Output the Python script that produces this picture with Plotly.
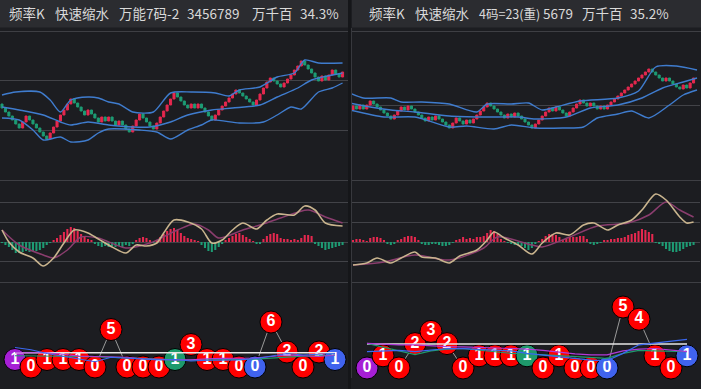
import plotly.graph_objects as go

W, H = 701, 389
BG = "#1c1d21"
BAR_BG = "#2b2c30"
RED = "#e6284f"
GREEN = "#1d9c74"
BAND = "#3f7cce"
DIF_C = "#c9b48e"
DEA_C = "#8a3d6e"
GRID = "#424348"

# ---------------- data ----------------
left_title = ["频率K", "快速缩水", "万能7码-2", "3456789", "万千百", "34.3%"]
right_title = ["频率K", "快速缩水", "4码=23(重)", "5679", "万千百", "35.2%"]

left_open0 = 76
left_close = [72,68,64,60,56,52,58,64,60,56,52,48,44,41,47,53,59,65,70,76,81,77,73,69,65,70,66,62,58,63,
              59,63,59,55,59,55,51,48,54,60,66,62,58,54,51,57,63,69,75,81,87,83,79,75,72,76,72,76,72,68,
              64,60,65,70,74,78,82,86,90,87,84,81,78,75,80,86,92,98,102,99,96,93,97,101,105,110,114,119,115,111,
              107,103,99,104,100,105,110,106,103,108]
right_open0 = 70
right_close = [74,71,75,71,75,79,76,73,70,67,64,61,65,69,73,70,74,71,68,65,62,59,63,60,64,61,58,55,52,57,
               62,59,56,60,57,61,65,69,73,77,74,71,68,65,62,66,63,67,64,61,58,55,52,56,60,64,68,72,69,73,
               70,67,64,68,72,76,80,77,74,77,74,71,74,71,75,78,81,84,87,90,93,96,99,102,105,108,111,108,105,102,
               99,102,99,96,93,91,95,92,97,102]

# Bollinger bands (candle index, value)
left_up_x = [0,4,11,14,17,20,25,28,31,34,38,44,49,55,62,66,69,75,80,85,88,92,99]
left_up = [85,88,88,80,68,80,83,82,78,76,68,68,87,88,87,84,90,93,103,107,120,117,117]
left_mid_x = [0,5,12,17,20,25,31,38,43,49,54,61,67,75,80,86,90,99]
left_mid = [73,70,65,58,55,58,55,53,53,58,65,70,72,75,83,92,100,107]
left_low_x = [0,5,9,12,17,20,25,28,31,40,45,49,54,58,61,69,76,80,84,87,92,96,99]
left_low = [62,60,50,40,43,38,40,47,51,50,48,41,50,55,60,57,58,65,73,71,88,92,97]

right_up_x = [-1,3,11,14,20,28,36,39,46,51,55,59,66,77,83,88,94,100]
right_up = [87,82,82,78,78,76,68,76,76,77,70,73,79,82,89,113,114,110]
right_mid_x = [-1,5,11,18,28,38,48,53,62,69,77,84,90,96,100]
right_mid = [77,73,70,68,64,63,63,61,63,72,75,82,92,98,102]
right_low_x = [-1,9,18,28,33,41,46,53,61,67,71,77,81,86,92,96,100]
right_low = [70,63,63,53,54,51,55,52,52,53,62,66,69,62,75,85,90]

# price level lines
left_levels = [50, 100]
right_levels = [75]

# MACD histogram
left_hist = [-1,-3,-5,-8,-11, -11,-10,-9,-10,-9,-9,-8,-6, -3,-1, 2,4,7,10,13,15,14,11,8,5, 3,2,
             -2,-4,-5,-4,-5,-4,-5,-4,-5,-3,-4,-2, 2,4,5,4,2,-1, 2,5,8,11,13,14,12,9,6, 4,3,2,1,
             -3,-6,-9,-10,-8,-5,-2, 2,4,6,8,9,7,5,3,1, -2,-2, 3,6,8,9,8, 4,3,3,2,3,2, 4,7,7,6,
             -2,-4,-6,-8,-7,-6,-5,-4,-3]
right_hist = [2,3,3,2,1,4,5,5,4,2, -2,-3,-2, 2,3,5,6,6,5,2, -2,-3,-3,-2,-2,-3,-4,-4,-3,-1,
              2,3,5,3,4,3,5,5,6, 9,12,11,8, 3,1, -1,-2,-3,-3,-4,-6,-8,-6,-2, 1, 3,6,8,8,7,5,
              2,4,5,5,5,6,6,3, -2,-3,-2,-1, 2,2,3,3,4,4,5,7,8,9,11,13,12,10,8,
              -1,-2,-4,-7,-9,-10,-10,-9,-7,-5,-4,-3]

left_dif_x = [0,2,5,9,12,15,18,21,25,28,32,36,39,42,45,47,50,54,58,61,64,67,70,74,77,80,85,88,91,94,99]
left_dif = [12,0,-10,-16,-24,-16,-1,12,9,3,-5,-11,-3,-4,-1,9,22,20,13,-1,2,12,19,13,22,28,27,36,32,19,16]
left_dea_x = [0,5,12,15,19,23,28,36,43,51,56,60,63,70,75,81,89,94,99]
left_dea = [12,-3,-13,-16,-8,5,4,-6,-1,12,18,12,4,12,17,24,32,25,19]

right_dif_x = [0,4,7,11,14,18,20,24,28,31,36,39,41,44,48,52,55,59,63,67,70,74,77,81,84,88,91,95,97,99]
right_dif = [-23,-21,-16,-21,-16,-10,-15,-16,-21,-14,-8,2,10,4,-3,-12,-1,9,7,17,19,12,17,22,32,48,42,25,19,20]
right_dea_x = [0,9,18,28,38,42,52,55,63,71,80,86,91,95,99]
right_dea = [-23,-20,-13,-18,-6,5,-3,-5,5,16,19,27,40,32,25]

# ball panel
left_balls = [1,0,1,1,1,0,5,0,0,0,1,3,1,1,0,0,6,2,0,2,1]
right_balls = [0,1,0,2,3,2,0,1,1,1,1,0,1,0,0,0,5,4,1,0,1]
left_ref = 1.9
right_ref = 1.97
left_blue = [2.6,2.3,1.8,1.4,1.0,0.7,1.3,1.2,1.0,0.95,1.0,0.8,0.9,0.9,0.95,1.1,1.5,1.8,1.6,1.7,1.8]
left_purple = [1.9,1.9,1.9,1.7,1.45,1.4,1.38,1.3,1.1,1.0,0.95,0.95,1.1,1.15,1.16,1.2,1.4,1.6,1.5,1.4,1.6]
left_green = [1.5,1.5,1.5,1.45,1.4,1.38,1.3,1.2,1.05,1.0,0.95,0.93,0.93,0.95,1.0,1.05,1.2,1.38,1.45,1.5,1.6]
right_blue = [1.34,1.4,1.45,1.35,1.45,1.6,1.58,1.53,1.5,1.4,1.2,1.05,0.93,0.75,0.65,0.6,1.2,1.9,2.05,2.2,2.35]
right_purple = [2.02,1.95,1.9,1.89,1.8,1.75,1.73,1.7,1.65,1.61,1.55,1.45,1.3,1.15,1.07,1.07,1.4,1.55,1.6,1.48,1.34]
right_green = [2.02,1.7,1.4,1.1,1.4,1.55,1.6,1.45,1.3,1.2,1.15,1.07,1.0,0.93,0.85,0.79,1.2,1.45,1.4,1.34,1.34]

BALL_SPECIAL = {0: "#a61fd6", 10: "#1e9a6c", 15: "#4063ee", 20: "#4063ee"}

# ---------------- figure ----------------
def px(x):
    return x / W


def py(y):
    return 1 - y / H


fig = go.Figure()
layout = {}

panels = [
    dict(title=left_title, tx=[7, 53, 117, 185, 250, 298], tsize=[13.5] * 6, open0=left_open0, close=left_close,
         bands=[(left_up_x, left_up), (left_mid_x, left_mid), (left_low_x, left_low)], levels=left_levels,
         hist=left_hist, dif=(left_dif_x, left_dif), dea=(left_dea_x, left_dea),
         balls=left_balls, ref=left_ref, lines=[left_green, left_purple, left_blue],
         xdom=[0, 348 / W], xr=[-2 / 3.44, -2 / 3.44 + 348 / 3.44],
         ball_yr=[-11 / 7.5, 85 / 7.5]),
    dict(title=right_title, tx=[367, 413, 477, 541, 580, 628], tsize=[13.5, 13.5, 12.5, 13.5, 13.5, 13.5],
         open0=right_open0, close=right_close,
         bands=[(right_up_x, right_up), (right_mid_x, right_mid), (right_low_x, right_low)], levels=right_levels,
         hist=right_hist, dif=(right_dif_x, right_dif), dea=(right_dea_x, right_dea),
         balls=right_balls, ref=right_ref, lines=[right_green, right_purple, right_blue],
         xdom=[352 / W, 700 / W], xr=[-1 / 3.44, -1 / 3.44 + 348 / 3.44],
         ball_yr=[-10 / 12.2, 86 / 12.2]),
]

shapes = []
annotations = []

for p, P in enumerate(panels):
    a_price, a_macd, a_ball = 3 * p + 1, 3 * p + 2, 3 * p + 3

    def names(i):
        return ("x" if i == 1 else f"x{i}"), ("y" if i == 1 else f"y{i}")

    def axkeys(i):
        return ("xaxis" if i == 1 else f"xaxis{i}"), ("yaxis" if i == 1 else f"yaxis{i}")

    # ---- price ----
    xa, ya = names(a_price)
    closes = P["close"]
    opens = [P["open0"]] + closes[:-1]
    idx = list(range(len(closes)))
    ccols = [RED if c > o else GREEN for c, o in zip(closes, opens)]
    fig.add_trace(go.Bar(x=idx, base=opens, y=[c - o for c, o in zip(closes, opens)],
                         marker=dict(color=ccols, line=dict(color=ccols, width=1)),
                         width=0.6, xaxis=xa, yaxis=ya, hoverinfo="skip"))
    for bx, bv in P["bands"]:
        fig.add_trace(go.Scatter(x=bx, y=bv, mode="lines", line=dict(color=BAND, width=1.4, shape="spline", smoothing=0.7),
                                 xaxis=xa, yaxis=ya, hoverinfo="skip"))
    kx, ky = axkeys(a_price)
    layout[kx] = dict(domain=P["xdom"], range=P["xr"], visible=False, anchor=ya, fixedrange=True)
    layout[ky] = dict(domain=[py(180), py(31)], range=[0, 149], anchor=xa, showgrid=True, gridcolor=GRID,
                      gridwidth=1, tickvals=P["levels"], showticklabels=False, zeroline=False, showline=False,
                      ticks="", fixedrange=True)

    # ---- MACD ----
    xa, ya = names(a_macd)
    hist = P["hist"]
    fig.add_trace(go.Bar(x=list(range(len(hist))), y=hist, width=0.6,
                         marker=dict(color=[RED if v > 0 else GREEN for v in hist], line_width=0),
                         xaxis=xa, yaxis=ya, hoverinfo="skip"))
    fig.add_trace(go.Scatter(x=P["dea"][0], y=P["dea"][1], mode="lines",
                             line=dict(color=DEA_C, width=1.5, shape="spline", smoothing=0.8),
                             xaxis=xa, yaxis=ya, hoverinfo="skip"))
    fig.add_trace(go.Scatter(x=P["dif"][0], y=P["dif"][1], mode="lines",
                             line=dict(color=DIF_C, width=1.6, shape="spline", smoothing=0.8),
                             xaxis=xa, yaxis=ya, hoverinfo="skip"))
    kx, ky = axkeys(a_macd)
    layout[kx] = dict(domain=P["xdom"], range=P["xr"], visible=False, anchor=ya, fixedrange=True)
    layout[ky] = dict(domain=[py(282), py(180)], range=[-40, 62], anchor=xa, showgrid=True, gridcolor=GRID,
                      gridwidth=1, tickvals=[-19, 0, 20, 40], showticklabels=False, zeroline=False,
                      showline=False, ticks="", fixedrange=True)

    # ---- balls ----
    xa, ya = names(a_ball)
    balls = P["balls"]
    bidx = list(range(len(balls)))
    fig.add_trace(go.Scatter(x=bidx, y=balls, mode="lines", line=dict(color="#9a9a9a", width=1),
                             xaxis=xa, yaxis=ya, hoverinfo="skip", cliponaxis=False))
    fig.add_trace(go.Scatter(x=bidx, y=balls, mode="markers+text", text=[str(v) for v in balls],
                             textposition="middle center",
                             textfont=dict(color="white", size=16, family="Liberation Sans", weight="bold"),
                             marker=dict(size=22, color=[BALL_SPECIAL.get(i, "#ff0000") for i in bidx],
                                         line=dict(color="#000000", width=1)),
                             xaxis=xa, yaxis=ya, hoverinfo="skip", cliponaxis=False))
    fig.add_trace(go.Scatter(x=[bidx[0], bidx[-1]], y=[P["ref"], P["ref"]], mode="lines",
                             line=dict(color="#e6e6e6", width=1.6), xaxis=xa, yaxis=ya, hoverinfo="skip",
                             cliponaxis=False))
    for col, vals in zip(["#1e9a6c", "#b03ad8", "#3a68f0"], P["lines"]):
        fig.add_trace(go.Scatter(x=bidx, y=vals, mode="lines", line=dict(color=col, width=1.2),
                                 xaxis=xa, yaxis=ya, hoverinfo="skip", cliponaxis=False))
    kx, ky = axkeys(a_ball)
    layout[kx] = dict(domain=P["xdom"], range=[-15 / 16, -15 / 16 + 348 / 16], visible=False, anchor=ya,
                      fixedrange=True)
    layout[ky] = dict(domain=[py(378), py(282)], range=P["ball_yr"], anchor=xa, visible=False, fixedrange=True)

    # ---- decorations ----
    x0 = P["xdom"][0] * W
    x1 = P["xdom"][1] * W if p == 0 else W
    shapes.append(dict(type="rect", xref="paper", yref="paper", x0=px(x0), x1=px(x1), y0=py(27.5), y1=py(0),
                       fillcolor=BAR_BG, line_width=0, layer="below"))
    for yy in (31.5, 180.5, 282.5):
        shapes.append(dict(type="line", xref="paper", yref="paper", x0=px(x0), x1=px(x1), y0=py(yy), y1=py(yy),
                           line=dict(color="#3e3f44", width=1), layer="below"))
    for t, tx, ts in zip(P["title"], P["tx"], P["tsize"]):
        annotations.append(dict(text=t, x=px(tx), y=py(13.5), xref="paper", yref="paper", xanchor="left",
                                yanchor="middle", showarrow=False,
                                font=dict(family="Noto Sans CJK SC", size=ts, color="#d9d9d9")))

# separator between the two panels
shapes.append(dict(type="rect", xref="paper", yref="paper", x0=px(348), x1=px(351), y0=0, y1=1,
                   fillcolor="#151619", line_width=0, layer="below"))
shapes.append(dict(type="line", xref="paper", yref="paper", x0=px(351.5), x1=px(351.5), y0=py(378), y1=py(28),
                   line=dict(color="#37383d", width=1), layer="below"))

fig.update_layout(width=W, height=H, margin=dict(l=0, r=0, t=0, b=0), paper_bgcolor=BG, plot_bgcolor=BG,
                  showlegend=False, barmode="overlay", shapes=shapes, annotations=annotations, **layout)

fig.write_html("out.html", config={"displayModeBar": False},
               post_script="document.body.style.margin='0';document.body.style.padding='0';"
                           "document.body.style.background='" + BG + "';")
